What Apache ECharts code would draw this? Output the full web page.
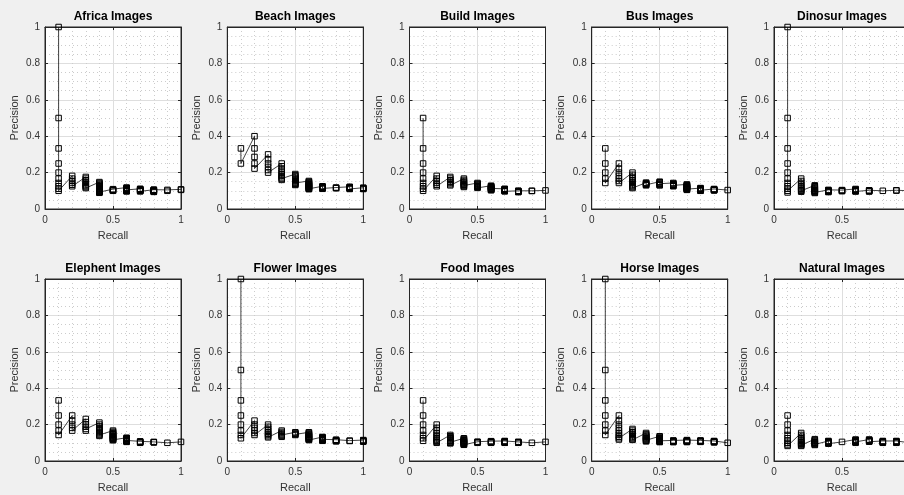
<!DOCTYPE html>
<html><head><meta charset="utf-8">
<script src="https://cdn.jsdelivr.net/npm/echarts@6/dist/echarts.min.js"></script>
<style>html,body{margin:0;padding:0;background:#f0f0f0;overflow:hidden;width:904px;height:495px;}#c{width:930px;height:495px;}</style>
</head><body><div id="c"></div>
<script>
// Recall levels (x positions of each cluster)
const recallLevels = [0.1, 0.2, 0.3, 0.4, 0.5, 0.6, 0.7, 0.8, 0.9, 1.0];
const xTicks = [0, 0.5, 1];
const yTicks = [0, 0.2, 0.4, 0.6, 0.8, 1];
const titles = ["Africa Images", "Beach Images", "Build Images", "Bus Images", "Dinosur Images",
                "Elephent Images", "Flower Images", "Food Images", "Horse Images", "Natural Images"];

// Precision values at each recall level (rank order)
const africa = [
  [1, .5, .333, .25, .2, .167, .143, .125, .111, .1],
  [.182, .167, .154, .143, .133, .125],
  [.176, .167, .158, .15, .143, .136, .13, .125, .12, .115],
  [.148, .143, .138, .133, .129, .125, .121, .118, .114, .111, .108, .105, .103, .1, .098, .095, .093, .091, .089],
  [.109, .106, .104, .102, .1],
  [.118, .115, .113, .111, .109, .107, .105, .103, .102, .1, .098, .097],
  [.111, .109, .108, .106, .104, .103, .101, .1, .099, .097],
  [.106, .105, .104, .103, .101, .1, .099, .098, .096, .095, .094],
  [.105, .1],
  [.108, .105]
];
const beach = [
  [.333, .25],
  [.4, .333, .286, .25, .222],
  [.3, .273, .25, .231, .214, .2],
  [.25, .235, .222, .211, .2, .19, .182, .174, .167, .16],
  [.192, .185, .179, .172, .167, .161, .156, .152, .147, .143, .139, .135, .132],
  [.154, .15, .146, .143, .14, .136, .133, .13, .128, .125, .122, .12, .118, .115, .113, .111, .109],
  [.125, .123, .121, .119, .117, .115, .113, .111],
  [.118, .116, .114],
  [.122, .12, .118, .116, .114, .112, .11],
  [.117, .115, .113, .111, .11]
];
const build = [
  [.5, .333, .25, .2, .167, .143, .125, .111, .1],
  [.182, .167, .154, .143, .133, .125],
  [.176, .167, .158, .15, .143, .136, .13],
  [.167, .16, .154, .148, .143, .138, .133, .129, .125, .121],
  [.143, .139, .135, .132, .128, .125, .122, .119, .116],
  [.128, .125, .122, .12, .118, .115, .113, .111, .109, .107, .105, .103],
  [.111, .109, .108, .106, .104, .103, .101, .1, .099, .097],
  [.1, .099, .098, .096, .095, .094, .093],
  [.1, .099],
  [.102]
];
const bus = [
  [.333, .25, .2, .167, .143],
  [.25, .222, .2, .182, .167, .154, .143],
  [.2, .188, .176, .167, .158, .15, .143, .136, .13, .125, .12, .115],
  [.145, .142, .139, .136, .133, .13],
  [.15, .147, .143, .139, .135, .132, .13],
  [.143, .14, .136, .133, .13, .128, .125],
  [.135, .132, .13, .127, .125, .123, .121, .119, .117, .115, .113, .111, .109, .107, .105],
  [.115, .113, .111, .11, .108, .107, .105, .104, .103, .101, .1],
  [.11, .108, .107, .106, .105, .103, .102],
  [.104]
];
const dinosur = [
  [1, .5, .333, .25, .2, .167, .143, .125, .111, .1, .091],
  [.167, .154, .143, .133, .125, .118, .111, .105, .1, .095],
  [.13, .125, .12, .115, .111, .107, .103, .1, .097, .094, .091, .088],
  [.105, .103, .1, .098, .095, .093],
  [.104, .102, .1, .098],
  [.11, .107, .105, .103, .101, .1, .098, .096],
  [.103, .101, .1, .098, .096],
  [.1],
  [.103, .101],
  [.1]
];
const elephent = [
  [.333, .25, .2, .167, .143],
  [.25, .222, .2, .182, .167],
  [.231, .214, .2, .188, .176, .167],
  [.211, .2, .19, .182, .174, .167, .16, .154, .148, .143, .138],
  [.167, .161, .156, .152, .147, .143, .139, .135, .132, .128, .125, .122, .119, .116, .114],
  [.128, .125, .122, .12, .118, .115, .113, .111, .109, .107, .105],
  [.108, .106, .104, .102, .1],
  [.105, .103, .102],
  [.1],
  [.105]
];
const flower = [
  [1, .5, .333, .25, .2, .167, .143, .125],
  [.222, .2, .182, .167, .154, .143],
  [.2, .188, .176, .167, .158, .15, .143, .136, .13],
  [.167, .16, .154, .148, .143, .138, .133],
  [.158, .154, .15, .146, .143],
  [.158, .154, .15, .146, .143, .14, .136, .133, .13, .128, .125, .122, .12, .118, .115],
  [.132, .13, .127, .125, .123, .121, .119, .117, .115, .113, .111],
  [.117, .115, .113, .111, .11, .108],
  [.112, .11],
  [.115, .113, .111, .108, .106]
];
const food = [
  [.333, .25, .2, .167, .143, .125, .111],
  [.2, .182, .167, .154, .143, .133, .125, .118, .111, .105, .1],
  [.143, .136, .13, .125, .12, .115, .111, .107, .103, .1, .097],
  [.125, .121, .118, .114, .111, .108, .105, .103, .1, .098, .095, .093, .091, .089],
  [.106, .104, .102, .1],
  [.109, .107, .105, .103, .102, .1],
  [.11, .108, .106, .104, .103, .101, .1],
  [.105, .104, .103, .101, .1],
  [.1],
  [.105]
];
const horse = [
  [1, .5, .333, .25, .2, .167, .143],
  [.25, .222, .2, .182, .167, .154, .143, .133, .125, .118],
  [.176, .167, .158, .15, .143, .136, .13, .125, .12, .116],
  [.154, .148, .143, .138, .133, .129, .125, .121, .118, .114, .111, .108],
  [.136, .132, .128, .125, .122, .119, .116, .114, .111, .109, .106, .104],
  [.113, .111, .109, .107, .105, .104],
  [.115, .113, .111, .109, .108, .106, .104],
  [.113, .111, .11, .108, .107, .105],
  [.11, .108, .107, .106, .104, .102],
  [.1]
];
const natural = [
  [.25, .2, .167, .143, .125, .111, .1, .091, .083],
  [.154, .143, .133, .125, .118, .111, .105, .1, .095, .091, .087, .083],
  [.12, .115, .111, .107, .103, .1, .097, .094, .091, .088],
  [.11, .108, .105, .103, .1, .098, .095],
  [.105],
  [.118, .115, .113, .111, .109, .107, .105, .103, .1],
  [.118, .116, .114, .112, .11, .108, .106],
  [.11, .108, .106, .104, .102, .1],
  [.11, .108, .106, .104, .102, .1],
  [.1]
];
const panels = [africa, beach, build, bus, dinosur, elephent, flower, food, horse, natural];

// ---- layout ----
const colLeft = [45, 227.3, 409.5, 591.7, 774];
const rowTop = [27, 279];
const W = 136, H = 182;
const FONT = 'Liberation Sans, Arial, Helvetica, sans-serif';
const boxColor = '#262626';

const grids = [], xAxes = [], yAxes = [], series = [], graphics = [];
panels.forEach((panel, i) => {
  const col = i % 5, row = Math.floor(i / 5);
  const left = colLeft[col], top = rowTop[row];
  grids.push({left: left, top: top, width: W, height: H, show: true,
    backgroundColor: '#fff', borderColor: boxColor, borderWidth: 1, containLabel: false});
  const common = {type: 'value', gridIndex: i, min: 0, max: 1};
  xAxes.push(Object.assign({}, common, {
    position: 'bottom', interval: 0.5,
    axisLine: {show: true, onZero: false, lineStyle: {color: boxColor, width: 1}},
    axisTick: {show: true, inside: true, length: 3, lineStyle: {color: boxColor}},
    axisLabel: {fontSize: 10, color: '#333', margin: 6, fontFamily: FONT},
    splitLine: {show: true, lineStyle: {color: '#dedede', width: 1}},
    minorTick: {show: false, splitNumber: 5},
    minorSplitLine: {show: true, lineStyle: {color: '#cccccc', width: 1, type: [1, 3]}},
    name: 'Recall', nameLocation: 'middle', nameGap: 21,
    nameTextStyle: {fontSize: 11, color: '#333', fontFamily: FONT}
  }));
  xAxes.push(Object.assign({}, common, {
    position: 'top', interval: 0.5,
    axisLine: {show: true, onZero: false, lineStyle: {color: boxColor, width: 1}},
    axisTick: {show: true, inside: true, length: 3, lineStyle: {color: boxColor}},
    axisLabel: {show: false}, splitLine: {show: false}
  }));
  yAxes.push(Object.assign({}, common, {
    position: 'left', interval: 0.2,
    axisLine: {show: true, onZero: false, lineStyle: {color: boxColor, width: 1}},
    axisTick: {show: true, inside: true, length: 3, lineStyle: {color: boxColor}},
    axisLabel: {fontSize: 10, color: '#333', margin: 5, fontFamily: FONT},
    splitLine: {show: true, lineStyle: {color: '#dedede', width: 1}},
    minorTick: {show: false, splitNumber: 4},
    minorSplitLine: {show: true, lineStyle: {color: '#cccccc', width: 1, type: [1, 3]}},
    name: 'Precision', nameLocation: 'middle', nameGap: 25,
    nameTextStyle: {fontSize: 11, color: '#333', fontFamily: FONT}
  }));
  yAxes.push(Object.assign({}, common, {
    position: 'right', interval: 0.2,
    axisLine: {show: true, onZero: false, lineStyle: {color: boxColor, width: 1}},
    axisTick: {show: true, inside: true, length: 3, lineStyle: {color: boxColor}},
    axisLabel: {show: false}, splitLine: {show: false}
  }));
  const data = [];
  panel.forEach((vals, k) => vals.forEach(p => data.push([recallLevels[k], p])));
  series.push({
    type: 'line', xAxisIndex: 2 * i, yAxisIndex: 2 * i, data: data,
    symbol: 'rect', symbolSize: 5.5, showSymbol: true, showAllSymbol: true,
    clip: false, silent: true, animation: false,
    lineStyle: {color: '#111', width: 0.8},
    itemStyle: {color: 'rgba(255,255,255,0)', borderColor: '#000', borderWidth: 1},
    emphasis: {disabled: true}
  });
  graphics.push({type: 'text', x: left + W / 2, y: top - 10,
    style: {text: titles[i], fill: '#000', font: 'bold 12px ' + FONT,
      textAlign: 'center', textVerticalAlign: 'middle'}});
});

const chart = echarts.init(document.getElementById('c'), null, {renderer: 'canvas'});
chart.setOption({
  backgroundColor: '#f0f0f0',
  animation: false,
  grid: grids, xAxis: xAxes, yAxis: yAxes, series: series, graphic: graphics
});
</script></body></html>
